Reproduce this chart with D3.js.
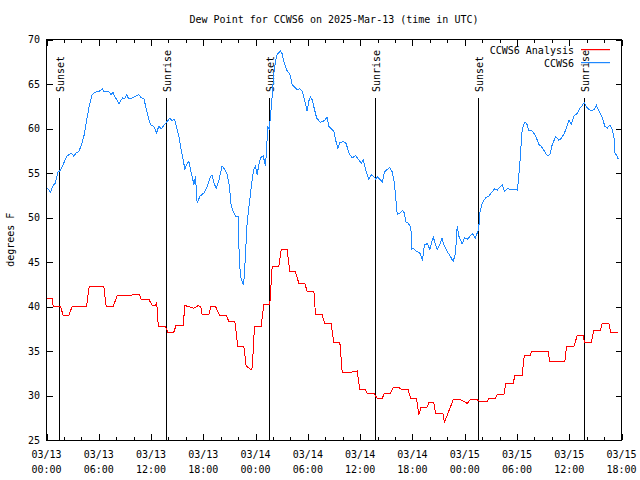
<!DOCTYPE html>
<html>
<head>
<meta charset="utf-8">
<script src="https://cdn.jsdelivr.net/npm/d3@7"></script>
<style>
html,body{margin:0;padding:0;background:#fff;}
svg{display:block;}
text{font-family:"DejaVu Sans Mono","Liberation Mono",monospace;font-size:10px;fill:#000;}
</style>
</head>
<body>
<script>
// ---- data (hours after 2025-03-13 00:00 UTC) ----
const titleText = "Dew Point for CCWS6 on 2025-Mar-13 (time in UTC)";
const yTicks = [25,30,35,40,45,50,55,60,65,70];
const xTickHours = [0,6,12,18,24,30,36,42,48,54,60,66];

const sunsetHours = [1.45, 25.52, 49.5];
const sunriseHours = [13.69, 37.68, 61.67];

const analysisHours = [0.08,0.65,0.77,1.61,1.91,2.56,2.95,4.59,4.9,6.58,6.85,7.65,8.11,9.64,9.95,10.64,10.87,11.75,12.13,12.5,12.66,12.77,12.9,13.66,13.93,14.61,14.88,15.69,15.88,16.3,16.9,17.4,17.7,17.87,18.63,18.86,19.4,19.9,20.66,20.93,21.62,21.96,22.65,22.92,23.49,23.62,23.87,24.64,24.79,24.94,25.63,25.9,26.67,26.94,27.62,27.93,28.58,28.96,29.65,29.92,30.69,30.88,31.64,31.95,32.67,32.98,33.67,33.94,34.81,35.66,35.96,36.6,36.8,37.57,37.96,38.53,38.8,39.48,39.79,40.44,40.71,41.51,41.78,42.47,42.73,43.0,43.69,43.88,44.45,44.65,45.49,45.68,46.68,47.52,48.0,48.28,48.67,49.43,49.7,50.58,50.77,51.54,51.73,52.49,52.72,53.56,53.79,54.6,54.83,55.48,55.67,57.58,57.77,59.49,59.69,60.53,60.91,61.6,61.75,62.52,62.82,63.59,63.78,64.54,64.77,65.62];
const analysisValues = [40.95,40.95,40.0,40.0,39.0,39.0,40.0,40.0,42.2,42.2,40.0,40.0,41.2,41.2,41.4,41.4,40.8,40.8,40.15,40.15,40.4,38.4,37.7,37.7,37.1,37.1,37.9,37.9,40.1,40.0,39.8,40.1,40.0,39.1,39.1,40.0,40.0,38.95,38.95,38.3,38.3,35.5,35.5,33.3,32.9,33.1,37.75,37.75,39.06,40.2,40.2,44.5,44.5,46.4,46.4,43.9,43.9,42.6,42.6,41.7,41.7,39.06,39.06,38.05,38.05,36.0,36.0,32.6,32.6,32.75,30.7,30.7,30.25,30.25,29.7,29.7,30.25,30.25,30.9,30.9,30.7,30.7,29.7,29.7,27.8,28.7,28.7,29.2,29.2,28.0,28.0,27.0,29.5,29.5,29.3,29.1,29.55,29.55,29.3,29.3,29.7,29.7,30.06,30.06,31.4,31.4,32.3,32.3,34.45,34.45,34.9,34.9,33.8,33.8,35.5,35.5,36.7,36.7,35.95,35.95,37.3,37.3,38.1,38.1,37.1,37.1];

const obsHours = [0.08,0.46,0.77,1.03,1.3,1.61,1.91,2.3,2.83,3.14,3.44,3.7,3.98,4.29,4.55,4.86,5.24,5.51,6.01,6.39,6.58,7.16,7.43,7.62,7.93,8.31,8.57,8.76,8.95,9.18,9.45,9.83,10.21,10.6,10.87,11.17,11.48,11.75,11.94,12.32,12.63,12.89,13.16,13.54,13.77,14.15,14.42,14.69,14.92,15.19,15.38,15.69,15.88,16.07,16.34,16.53,16.72,16.91,17.1,17.29,17.6,18.06,18.44,18.82,19.02,19.21,19.48,19.78,19.97,20.16,20.43,20.74,21.0,21.2,21.43,21.7,22.0,22.13,22.28,22.47,22.62,22.74,22.85,23.03,23.2,23.6,23.8,23.99,24.18,24.37,24.56,24.87,25.14,25.25,25.41,25.56,25.71,25.9,26.09,26.4,26.55,26.86,27.05,27.24,27.55,27.82,28.0,28.2,28.58,28.77,29.08,29.35,29.62,29.92,30.1,30.3,30.5,30.77,31.0,31.4,31.76,32.0,32.2,32.4,32.79,32.98,33.17,33.44,33.67,34.13,34.4,34.7,35.1,35.47,35.85,36.12,36.35,36.62,37.0,37.27,37.58,37.77,37.96,38.27,38.54,38.8,39.1,39.4,39.7,39.95,40.07,40.26,40.57,40.84,41.1,41.22,41.49,41.72,41.84,41.88,42.07,42.47,42.85,43.15,43.39,43.7,44.0,44.39,44.84,45.15,45.4,45.6,45.99,46.37,46.68,46.95,47.14,47.33,47.71,47.98,48.36,48.86,49.24,49.43,49.6,49.74,50.0,50.39,50.77,51.04,51.42,51.73,52.3,52.57,52.95,53.26,53.64,54.02,54.1,54.33,54.6,54.87,55.1,55.37,55.75,56.13,56.52,56.79,57.1,57.48,57.78,58.05,58.43,58.62,58.82,59.09,59.4,59.7,59.97,60.24,60.55,60.93,61.24,61.5,61.7,62.08,62.47,62.85,63.12,63.43,63.81,64.08,64.39,64.66,64.96,65.15,65.23,65.46,65.61];
const obsValues = [53.3,52.87,53.6,53.9,55.07,55.3,55.94,56.87,57.25,56.87,57.3,57.4,58.08,59.12,60.63,62.3,63.81,64.07,64.15,64.45,64.15,64.15,63.8,64.07,63.44,62.8,63.2,63.44,63.33,63.8,63.33,63.44,63.6,63.8,63.44,63.37,62.1,61.0,60.44,60.25,59.5,60.25,59.95,60.44,60.7,61.15,60.9,61.0,60.25,59.12,58.0,56.5,55.4,55.94,56.3,55.4,54.63,53.7,54.63,51.62,52.37,52.75,53.5,54.63,54.74,53.87,53.3,54.07,55.0,55.8,55.44,54.8,53.5,51.25,50.7,50.1,50.1,45.25,43.37,42.8,42.4,44.1,46.0,49.4,50.9,54.25,55.4,55.8,54.8,55.94,56.7,56.94,55.75,57.6,60.25,59.87,61.37,63.6,66.25,68.1,68.4,68.7,68.4,67.56,66.6,66.25,65.9,64.94,64.57,64.37,64.45,64.2,63.25,61.94,63.07,63.55,63.2,62.1,61.2,60.7,60.8,61.0,61.3,60.25,59.87,59.7,58.75,57.8,58.45,58.5,58.3,57.25,56.7,56.94,56.5,56.1,56.5,55.4,54.25,54.8,54.6,54.3,54.6,54.3,54.0,55.1,55.4,55.6,55.1,53.8,52.3,50.35,50.5,50.8,50.5,49.5,49.37,49.1,48.44,46.4,46.56,46.2,46.0,45.25,46.94,47.05,46.45,47.8,46.4,46.94,47.7,46.94,46.2,45.6,45.06,46.0,49.0,47.9,47.05,47.7,47.57,48.2,47.7,48.25,48.6,50.5,51.6,52.2,52.4,52.75,53.2,53.07,53.7,52.95,53.3,53.1,53.2,53.07,53.5,56.1,59.87,60.7,60.6,59.8,59.7,59.2,58.2,58.0,57.55,56.94,57.05,58.2,59.04,58.9,58.67,58.9,59.4,60.1,60.9,60.5,61.4,61.7,62.3,62.6,62.9,62.3,62.0,62.1,62.6,61.9,61.2,60.25,60.06,60.4,59.87,58.9,57.3,56.94,56.6];

// ---- drawing ----
const W = 640, H = 480;
const pLeft = 46.5, pRight = 621.5, pTop = 39.5, pBottom = 440;
const t0 = Date.UTC(2025, 2, 13, 0, 0);
const toDate = h => new Date(t0 + h * 3600000);

const svg = d3.select("body").append("svg").attr("width", W).attr("height", H);

const x = d3.scaleUtc().domain([toDate(0), toDate(66)]).range([pLeft, pRight]);
const y = d3.scaleLinear().domain([25, 70]).range([pBottom, pTop]);

// title
svg.append("text").attr("x", (pLeft + pRight) / 2).attr("y", 23).attr("text-anchor", "middle").text(titleText);

// y label
svg.append("text").attr("transform", `translate(14,${(pTop + pBottom) / 2}) rotate(-90)`).attr("text-anchor", "middle").text("degrees F");

// frame
svg.append("rect").attr("x", pLeft).attr("y", pTop).attr("width", pRight - pLeft).attr("height", pBottom - pTop)
  .attr("fill", "none").attr("stroke", "#000").attr("stroke-width", 1).attr("shape-rendering", "crispEdges");

// y ticks (inward, mirrored)
const gy = svg.append("g").attr("shape-rendering", "crispEdges");
yTicks.forEach(v => {
  const yy = Math.round(y(v)) + 0.5;
  gy.append("line").attr("x1", pLeft).attr("x2", pLeft + 6).attr("y1", yy).attr("y2", yy).attr("stroke", "#000");
  gy.append("line").attr("x1", pRight - 6).attr("x2", pRight).attr("y1", yy).attr("y2", yy).attr("stroke", "#000");
  gy.append("text").attr("x", 40).attr("y", y(v) + 3.5).attr("text-anchor", "end").text(v);
});

// x ticks: major every 6h, minor every 2h
const gx = svg.append("g").attr("shape-rendering", "crispEdges");
const minorHours = d3.range(0, 67, 2);
minorHours.forEach(h => {
  const xx = Math.round(x(toDate(h))) + 0.5;
  const major = h % 6 === 0;
  const len = major ? 6 : 3;
  gx.append("line").attr("x1", xx).attr("x2", xx).attr("y1", pBottom).attr("y2", pBottom - len).attr("stroke", "#000");
  gx.append("line").attr("x1", xx).attr("x2", xx).attr("y1", pTop).attr("y2", pTop + len).attr("stroke", "#000");
});
const fDay = d3.utcFormat("%m/%d"), fTime = d3.utcFormat("%H:%M");
xTickHours.forEach(h => {
  const d = toDate(h);
  gx.append("text").attr("x", x(d)).attr("y", 458).attr("text-anchor", "middle").text(fDay(d));
  gx.append("text").attr("x", x(d)).attr("y", 473).attr("text-anchor", "middle").text(fTime(d));
});

// sunset / sunrise markers
const markers = sunsetHours.map(h => ({h, label: "Sunset"})).concat(sunriseHours.map(h => ({h, label: "Sunrise"})));
markers.forEach(m => {
  const xx = Math.round(x(toDate(m.h))) + 0.5;
  svg.append("line").attr("x1", xx).attr("x2", xx).attr("y1", 98).attr("y2", pBottom).attr("stroke", "#000")
    .attr("stroke-width", 1).attr("shape-rendering", "crispEdges");
  svg.append("text").attr("transform", `translate(${xx + 4.8},92) rotate(-90)`).attr("text-anchor", "start").text(m.label);
});

// series
const line = d3.line().x(d => x(toDate(d[0]))).y(d => y(d[1]));
const analysis = analysisHours.map((h, i) => [h, analysisValues[i]]);
const obs = obsHours.map((h, i) => [h, obsValues[i]]);
svg.append("path").datum(analysis).attr("d", line).attr("fill", "none").attr("stroke", "#ff0000")
  .attr("stroke-width", 1).attr("shape-rendering", "crispEdges");
svg.append("path").datum(obs).attr("d", line).attr("fill", "none").attr("stroke", "#1e88ff")
  .attr("stroke-width", 1).attr("shape-rendering", "crispEdges");

// legend
const legend = [{name: "CCWS6 Analysis", color: "#ff0000", y: 50}, {name: "CCWS6", color: "#1e88ff", y: 63}];
legend.forEach(l => {
  svg.append("text").attr("x", 574).attr("y", l.y + 3.5).attr("text-anchor", "end").text(l.name);
  svg.append("rect").attr("x", 581).attr("y", l.y - 1).attr("width", 29).attr("height", 1.2).attr("fill", l.color);
});
</script>
</body>
</html>
